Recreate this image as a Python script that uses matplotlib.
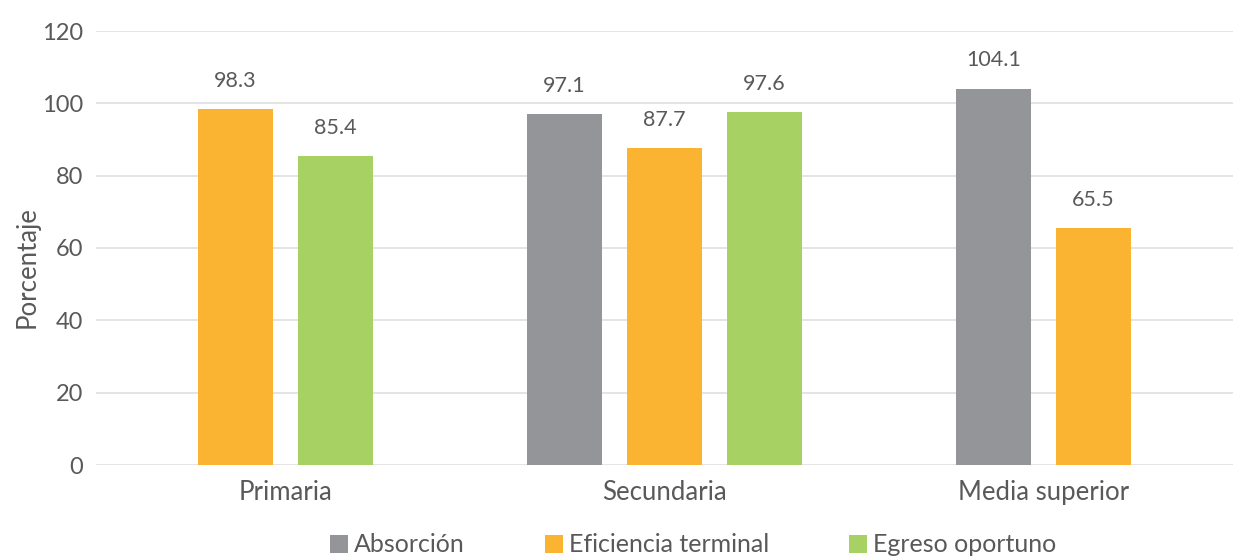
import matplotlib
matplotlib.use("Agg")
import matplotlib.pyplot as plt
from matplotlib.patches import Patch
import numpy as np

plt.rcParams['font.family'] = ['Lato', 'DejaVu Sans']

categories = ["Primaria", "Secundaria", "Media superior"]
series = ["Absorción", "Eficiencia terminal", "Egreso oportuno"]
absorcion = [None, 97.1, 104.1]
eficiencia = [98.3, 87.7, 65.5]
egreso = [85.4, 97.6, None]
values = [absorcion, eficiencia, egreso]
colors = ["#949599", "#FBB431", "#A8D163"]
yticks = [0, 20, 40, 60, 80, 100, 120]

W, H = 1235, 557
fig = plt.figure(figsize=(W / 100, H / 100), dpi=100)
ax = fig.add_axes([96 / W, 1 - 465 / H, (1233 - 96) / W, (465 - 31) / H])

txt = "#595959"
step = 0.264
width = 0.197
for ci, cat in enumerate(categories):
    present = [si for si in range(len(series)) if values[si][ci] is not None]
    n = len(present)
    for k, si in enumerate(present):
        x = ci + (k - (n - 1) / 2) * step
        v = values[si][ci]
        ax.bar(x, v, width=width, color=colors[si], zorder=3)
        ax.annotate(f"{v:.1f}", (x, v), xytext=(0, 16), textcoords="offset points",
                    ha="center", va="baseline", fontsize=15.5, color=txt)

ax.set_xlim(-0.5, len(categories) - 0.5)
ax.set_ylim(0, 120)
ax.set_yticks(yticks)
ax.set_xticks(range(len(categories)))
ax.set_xticklabels(categories)
ax.tick_params(axis="both", length=0, colors=txt)
ax.tick_params(axis="y", pad=9, labelsize=17)
ax.tick_params(axis="x", pad=11, labelsize=18.5)
ax.grid(axis="y", color="#E4E4E4", linewidth=1.4, zorder=0)
for s in ax.spines.values():
    s.set_visible(False)

fig.text(27 / W, 1 - 267 / H, "Porcentaje", rotation=90, ha="center", va="center",
         fontsize=18.5, color=txt)

handles = [Patch(facecolor=c, edgecolor="none") for c in colors]
leg = fig.legend(handles, series, loc="center", bbox_to_anchor=(693 / W, 1 - 545 / H),
                 ncol=3, frameon=False, fontsize=18, handlelength=0.72, handleheight=0.72,
                 handletextpad=0.24, columnspacing=3.2, borderaxespad=0, borderpad=0)
for t in leg.get_texts():
    t.set_color(txt)

fig.savefig("out.png", dpi=100)
